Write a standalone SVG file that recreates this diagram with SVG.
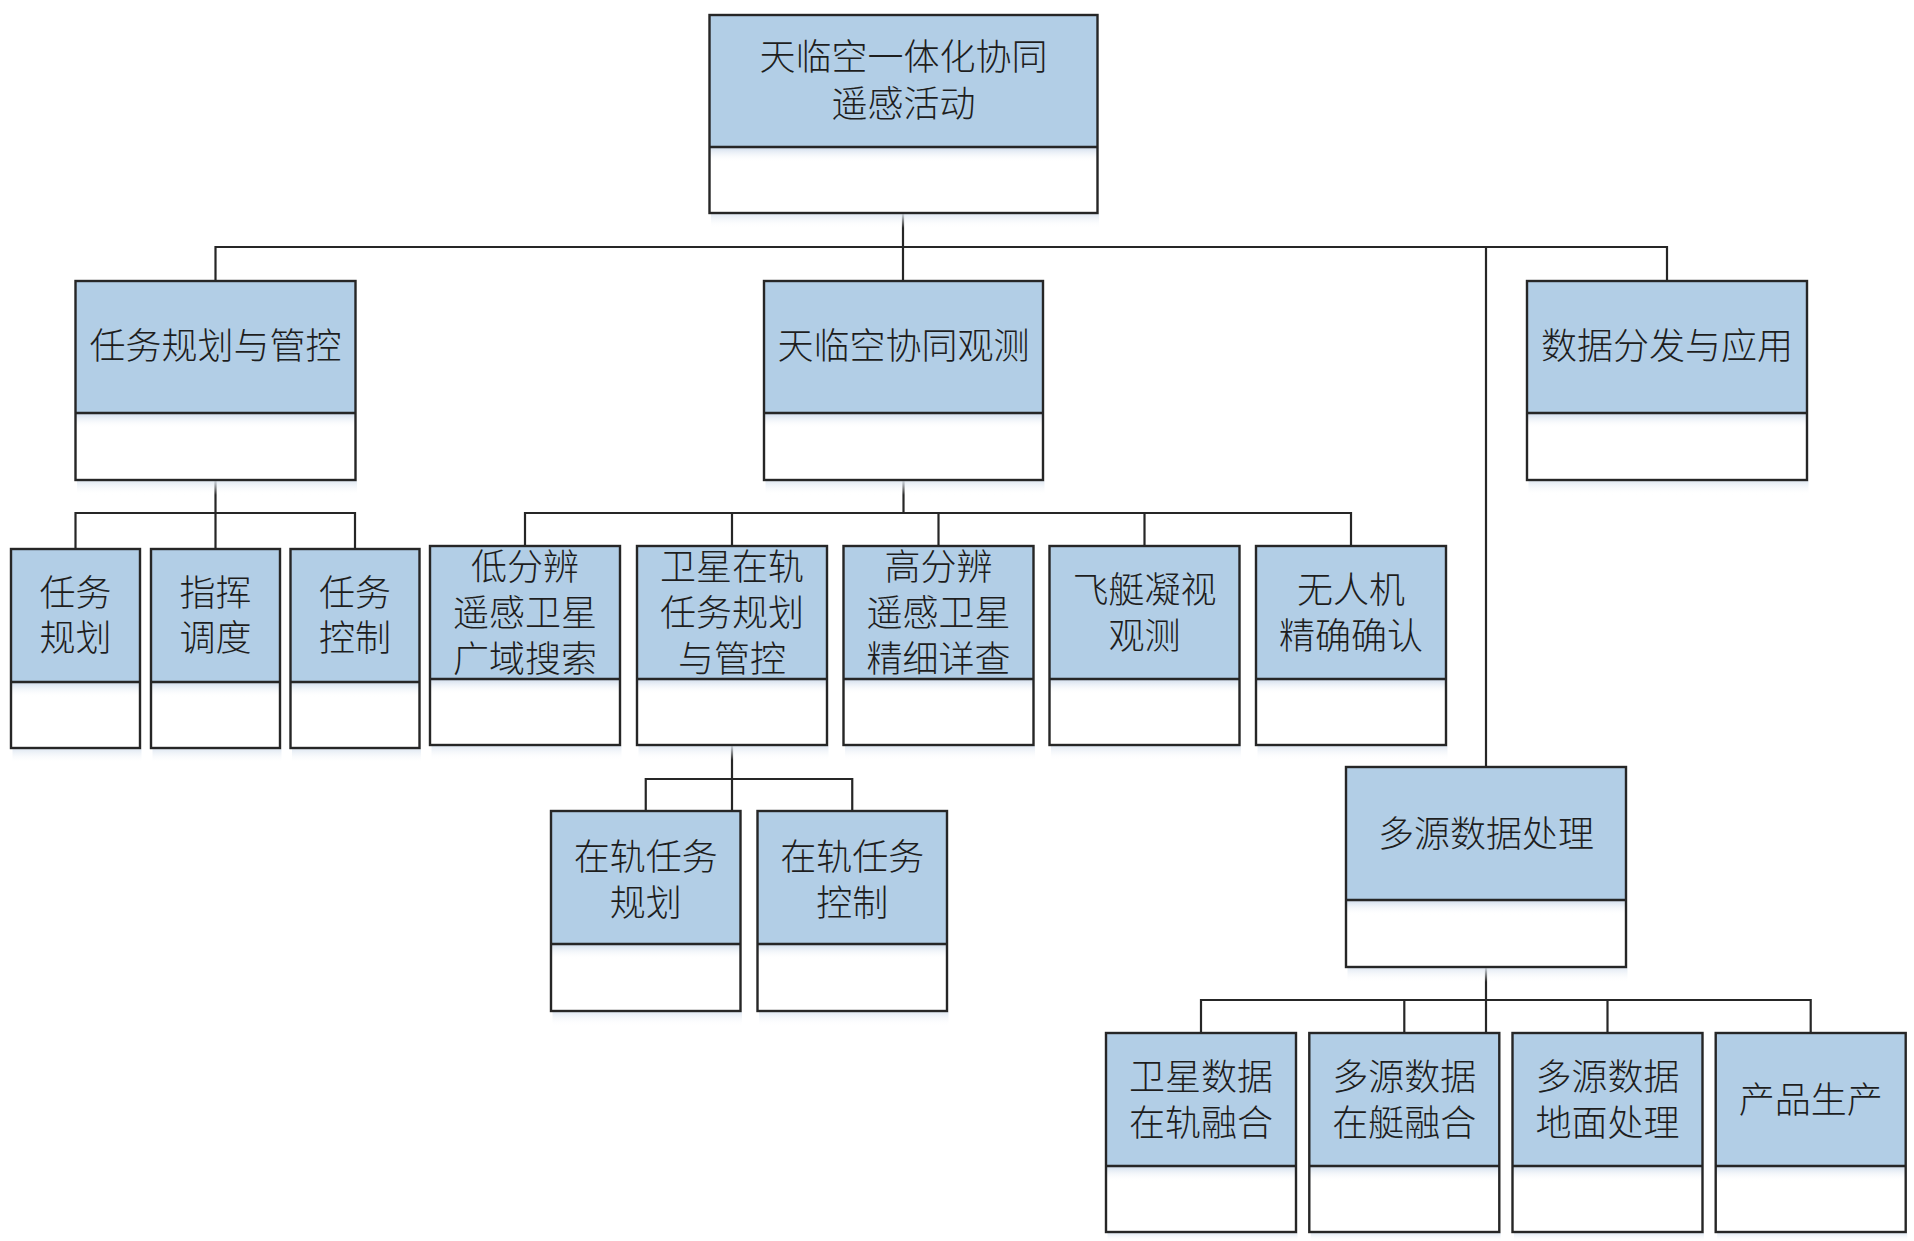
<svg xmlns="http://www.w3.org/2000/svg" width="1914" height="1241" viewBox="0 0 1914 1241">
<defs>
<linearGradient id="inShade" x1="0" y1="0" x2="0" y2="1">
<stop offset="0" stop-color="#cfdcec" stop-opacity="0.9"/>
<stop offset="1" stop-color="#ffffff" stop-opacity="0"/>
</linearGradient>
<linearGradient id="outShade" x1="0" y1="0" x2="0" y2="1">
<stop offset="0" stop-color="#dde6f1" stop-opacity="0.9"/>
<stop offset="1" stop-color="#ffffff" stop-opacity="0"/>
</linearGradient>
</defs>
<style>
.top{fill:#b2cee6;}
.bot{fill:#ffffff;}
.ish{fill:url(#inShade);}
.osh{fill:url(#outShade);}
.frame{fill:none;stroke:#262626;stroke-width:2.4;}
.sep{stroke:#262626;stroke-width:2.6;}
.conn{fill:none;stroke:#262626;stroke-width:2.2;}
text{font-family:"Liberation Sans","Noto Sans CJK SC","Noto Sans CJK JP",sans-serif;font-size:36px;font-weight:300;fill:#1e1e1e;text-anchor:middle;}
</style>
<rect width="1914" height="1241" fill="#ffffff"/>

<g id="connectors">
<polyline class="conn" points="903,213 903,281"/>
<polyline class="conn" points="215.5,281 215.5,247 1667,247 1667,281"/>
<polyline class="conn" points="1486,247 1486,767"/>
<polyline class="conn" points="215.5,480 215.5,549"/>
<polyline class="conn" points="75.5,549 75.5,513 355,513 355,549"/>
<polyline class="conn" points="903.5,480 903.5,513"/>
<polyline class="conn" points="525,546 525,513 1351,513 1351,546"/>
<polyline class="conn" points="732,513 732,546"/>
<polyline class="conn" points="938.5,513 938.5,546"/>
<polyline class="conn" points="1144.5,513 1144.5,546"/>
<polyline class="conn" points="732,745 732,811"/>
<polyline class="conn" points="645.75,811 645.75,779 852.25,779 852.25,811"/>
<polyline class="conn" points="1486,967 1486,1033"/>
<polyline class="conn" points="1201,1033 1201,1000 1810.7,1000 1810.7,1033"/>
<polyline class="conn" points="1404.3,1000 1404.3,1033"/>
<polyline class="conn" points="1607.5,1000 1607.5,1033"/>
</g>

<g id="n-root">
<rect class="osh" x="711" y="214" width="388" height="14"/>
<rect class="top" x="709.5" y="15" width="388" height="132"/>
<rect class="bot" x="709.5" y="147" width="388" height="66"/>
<rect class="ish" x="709.5" y="148" width="388" height="14"/>
<line class="sep" x1="709.5" y1="147" x2="1097.5" y2="147"/>
<rect class="frame" x="709.5" y="15" width="388" height="198"/>
<text><tspan x="903.5" y="69.7">天临空一体化协同</tspan><tspan x="903.5" y="116.7">遥感活动</tspan></text>
</g>

<g id="n-plan">
<rect class="osh" x="77" y="481" width="280" height="14"/>
<rect class="top" x="75.5" y="281" width="280" height="132"/>
<rect class="bot" x="75.5" y="413" width="280" height="67"/>
<rect class="ish" x="75.5" y="414" width="280" height="14"/>
<line class="sep" x1="75.5" y1="413" x2="355.5" y2="413"/>
<rect class="frame" x="75.5" y="281" width="280" height="199"/>
<text x="215.5" y="359.2">任务规划与管控</text>
</g>

<g id="n-observe">
<rect class="osh" x="765.5" y="481" width="279" height="14"/>
<rect class="top" x="764" y="281" width="279" height="132"/>
<rect class="bot" x="764" y="413" width="279" height="67"/>
<rect class="ish" x="764" y="414" width="279" height="14"/>
<line class="sep" x1="764" y1="413" x2="1043" y2="413"/>
<rect class="frame" x="764" y="281" width="279" height="199"/>
<text x="903.5" y="359.2">天临空协同观测</text>
</g>

<g id="n-dist">
<rect class="osh" x="1528.5" y="481" width="280" height="14"/>
<rect class="top" x="1527" y="281" width="280" height="132"/>
<rect class="bot" x="1527" y="413" width="280" height="67"/>
<rect class="ish" x="1527" y="414" width="280" height="14"/>
<line class="sep" x1="1527" y1="413" x2="1807" y2="413"/>
<rect class="frame" x="1527" y="281" width="280" height="199"/>
<text x="1667" y="359.2">数据分发与应用</text>
</g>

<g id="n-multi">
<rect class="osh" x="1347.5" y="968" width="280" height="14"/>
<rect class="top" x="1346" y="767" width="280" height="133"/>
<rect class="bot" x="1346" y="900" width="280" height="67"/>
<rect class="ish" x="1346" y="901" width="280" height="14"/>
<line class="sep" x1="1346" y1="900" x2="1626" y2="900"/>
<rect class="frame" x="1346" y="767" width="280" height="200"/>
<text x="1486" y="846.5">多源数据处理</text>
</g>

<g id="n-plan1">
<rect class="osh" x="12.5" y="749" width="129" height="14"/>
<rect class="top" x="11" y="549" width="129" height="133"/>
<rect class="bot" x="11" y="682" width="129" height="66"/>
<rect class="ish" x="11" y="683" width="129" height="14"/>
<line class="sep" x1="11" y1="682" x2="140" y2="682"/>
<rect class="frame" x="11" y="549" width="129" height="199"/>
<text><tspan x="75.5" y="605.5">任务</tspan><tspan x="75.5" y="651">规划</tspan></text>
</g>

<g id="n-plan2">
<rect class="osh" x="152.5" y="749" width="129" height="14"/>
<rect class="top" x="151" y="549" width="129" height="133"/>
<rect class="bot" x="151" y="682" width="129" height="66"/>
<rect class="ish" x="151" y="683" width="129" height="14"/>
<line class="sep" x1="151" y1="682" x2="280" y2="682"/>
<rect class="frame" x="151" y="549" width="129" height="199"/>
<text><tspan x="215.5" y="605.5">指挥</tspan><tspan x="215.5" y="651">调度</tspan></text>
</g>

<g id="n-plan3">
<rect class="osh" x="292" y="749" width="129" height="14"/>
<rect class="top" x="290.5" y="549" width="129" height="133"/>
<rect class="bot" x="290.5" y="682" width="129" height="66"/>
<rect class="ish" x="290.5" y="683" width="129" height="14"/>
<line class="sep" x1="290.5" y1="682" x2="419.5" y2="682"/>
<rect class="frame" x="290.5" y="549" width="129" height="199"/>
<text><tspan x="355" y="605.5">任务</tspan><tspan x="355" y="651">控制</tspan></text>
</g>

<g id="n-obs1">
<rect class="osh" x="431.5" y="746" width="190" height="14"/>
<rect class="top" x="430" y="546" width="190" height="133"/>
<rect class="bot" x="430" y="679" width="190" height="66"/>
<rect class="ish" x="430" y="680" width="190" height="14"/>
<line class="sep" x1="430" y1="679" x2="620" y2="679"/>
<rect class="frame" x="430" y="546" width="190" height="199"/>
<text><tspan x="525" y="580">低分辨</tspan><tspan x="525" y="626">遥感卫星</tspan><tspan x="525" y="672">广域搜索</tspan></text>
</g>

<g id="n-obs2">
<rect class="osh" x="638.5" y="746" width="190" height="14"/>
<rect class="top" x="637" y="546" width="190" height="133"/>
<rect class="bot" x="637" y="679" width="190" height="66"/>
<rect class="ish" x="637" y="680" width="190" height="14"/>
<line class="sep" x1="637" y1="679" x2="827" y2="679"/>
<rect class="frame" x="637" y="546" width="190" height="199"/>
<text><tspan x="732" y="580">卫星在轨</tspan><tspan x="732" y="626">任务规划</tspan><tspan x="732" y="672">与管控</tspan></text>
</g>

<g id="n-obs3">
<rect class="osh" x="845" y="746" width="190" height="14"/>
<rect class="top" x="843.5" y="546" width="190" height="133"/>
<rect class="bot" x="843.5" y="679" width="190" height="66"/>
<rect class="ish" x="843.5" y="680" width="190" height="14"/>
<line class="sep" x1="843.5" y1="679" x2="1033.5" y2="679"/>
<rect class="frame" x="843.5" y="546" width="190" height="199"/>
<text><tspan x="938.5" y="580">高分辨</tspan><tspan x="938.5" y="626">遥感卫星</tspan><tspan x="938.5" y="672">精细详查</tspan></text>
</g>

<g id="n-obs4">
<rect class="osh" x="1051" y="746" width="190" height="14"/>
<rect class="top" x="1049.5" y="546" width="190" height="133"/>
<rect class="bot" x="1049.5" y="679" width="190" height="66"/>
<rect class="ish" x="1049.5" y="680" width="190" height="14"/>
<line class="sep" x1="1049.5" y1="679" x2="1239.5" y2="679"/>
<rect class="frame" x="1049.5" y="546" width="190" height="199"/>
<text><tspan x="1144.5" y="603">飞艇凝视</tspan><tspan x="1144.5" y="649">观测</tspan></text>
</g>

<g id="n-obs5">
<rect class="osh" x="1257.5" y="746" width="190" height="14"/>
<rect class="top" x="1256" y="546" width="190" height="133"/>
<rect class="bot" x="1256" y="679" width="190" height="66"/>
<rect class="ish" x="1256" y="680" width="190" height="14"/>
<line class="sep" x1="1256" y1="679" x2="1446" y2="679"/>
<rect class="frame" x="1256" y="546" width="190" height="199"/>
<text><tspan x="1351" y="603">无人机</tspan><tspan x="1351" y="649">精确确认</tspan></text>
</g>

<g id="n-orbit1">
<rect class="osh" x="552.5" y="1012" width="189.5" height="14"/>
<rect class="top" x="551" y="811" width="189.5" height="133"/>
<rect class="bot" x="551" y="944" width="189.5" height="67"/>
<rect class="ish" x="551" y="945" width="189.5" height="14"/>
<line class="sep" x1="551" y1="944" x2="740.5" y2="944"/>
<rect class="frame" x="551" y="811" width="189.5" height="200"/>
<text><tspan x="645.75" y="870">在轨任务</tspan><tspan x="645.75" y="915.5">规划</tspan></text>
</g>

<g id="n-orbit2">
<rect class="osh" x="759" y="1012" width="189.5" height="14"/>
<rect class="top" x="757.5" y="811" width="189.5" height="133"/>
<rect class="bot" x="757.5" y="944" width="189.5" height="67"/>
<rect class="ish" x="757.5" y="945" width="189.5" height="14"/>
<line class="sep" x1="757.5" y1="944" x2="947" y2="944"/>
<rect class="frame" x="757.5" y="811" width="189.5" height="200"/>
<text><tspan x="852.25" y="870">在轨任务</tspan><tspan x="852.25" y="915.5">控制</tspan></text>
</g>

<g id="n-data1">
<rect class="osh" x="1107.5" y="1233" width="190" height="8"/>
<rect class="top" x="1106" y="1033" width="190" height="133"/>
<rect class="bot" x="1106" y="1166" width="190" height="66"/>
<rect class="ish" x="1106" y="1167" width="190" height="14"/>
<line class="sep" x1="1106" y1="1166" x2="1296" y2="1166"/>
<rect class="frame" x="1106" y="1033" width="190" height="199"/>
<text><tspan x="1201" y="1090">卫星数据</tspan><tspan x="1201" y="1136">在轨融合</tspan></text>
</g>

<g id="n-data2">
<rect class="osh" x="1310.8" y="1233" width="190" height="8"/>
<rect class="top" x="1309.3" y="1033" width="190" height="133"/>
<rect class="bot" x="1309.3" y="1166" width="190" height="66"/>
<rect class="ish" x="1309.3" y="1167" width="190" height="14"/>
<line class="sep" x1="1309.3" y1="1166" x2="1499.3" y2="1166"/>
<rect class="frame" x="1309.3" y="1033" width="190" height="199"/>
<text><tspan x="1404.3" y="1090">多源数据</tspan><tspan x="1404.3" y="1136">在艇融合</tspan></text>
</g>

<g id="n-data3">
<rect class="osh" x="1514" y="1233" width="190" height="8"/>
<rect class="top" x="1512.5" y="1033" width="190" height="133"/>
<rect class="bot" x="1512.5" y="1166" width="190" height="66"/>
<rect class="ish" x="1512.5" y="1167" width="190" height="14"/>
<line class="sep" x1="1512.5" y1="1166" x2="1702.5" y2="1166"/>
<rect class="frame" x="1512.5" y="1033" width="190" height="199"/>
<text><tspan x="1607.5" y="1090">多源数据</tspan><tspan x="1607.5" y="1136">地面处理</tspan></text>
</g>

<g id="n-data4">
<rect class="osh" x="1717.2" y="1233" width="190" height="8"/>
<rect class="top" x="1715.7" y="1033" width="190" height="133"/>
<rect class="bot" x="1715.7" y="1166" width="190" height="66"/>
<rect class="ish" x="1715.7" y="1167" width="190" height="14"/>
<line class="sep" x1="1715.7" y1="1166" x2="1905.7" y2="1166"/>
<rect class="frame" x="1715.7" y="1033" width="190" height="199"/>
<text x="1810.7" y="1113">产品生产</text>
</g>
</svg>
